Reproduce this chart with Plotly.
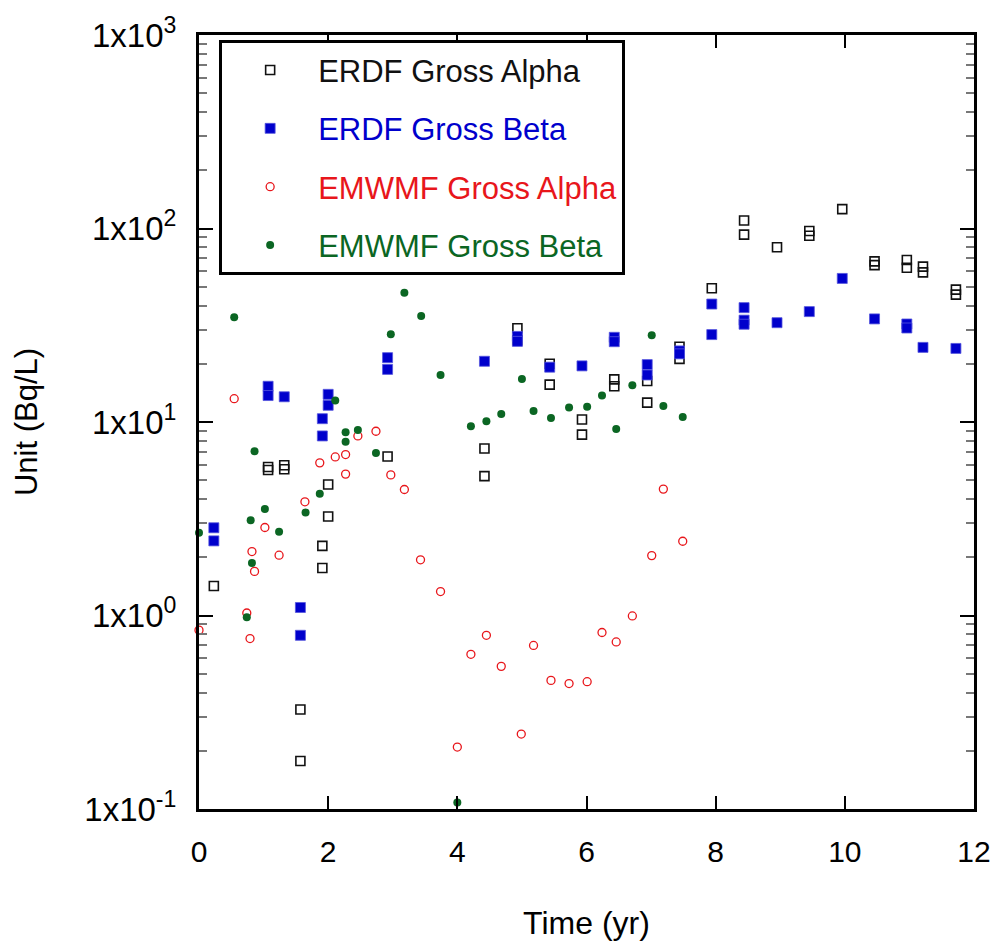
import plotly.graph_objects as go

# ERDF Gross Alpha (open black squares)
erdf_alpha_t = [0.23, 1.07, 1.07, 1.32, 1.32, 1.57, 1.57, 1.91, 1.91, 2.0, 2.0, 2.92,
                4.42, 4.42, 4.93, 4.93, 5.43, 5.43, 5.93, 5.93, 6.43, 6.43, 6.94, 6.94,
                7.44, 7.44, 7.94, 8.44, 8.44, 8.95, 9.45, 9.45, 9.96, 10.46, 10.46,
                10.96, 10.96, 11.21, 11.21, 11.72, 11.72]
erdf_alpha_v = [1.42, 5.85, 5.65, 5.98, 5.7, 0.327, 0.177, 2.29, 1.76, 4.75, 3.25, 6.63,
                7.3, 5.25, 30.5, 26.5, 20.0, 15.6, 10.3, 8.6, 16.6, 15.3, 16.3, 12.6,
                24.5, 21.2, 49.1, 110, 93, 80, 97, 91.7, 126, 67.6, 64.7,
                68.7, 62.7, 63.5, 59.3, 48.3, 45.5]

# ERDF Gross Beta (filled blue squares)
erdf_beta_t = [0.23, 0.23, 1.07, 1.07, 1.32, 1.57, 1.57, 1.91, 1.91, 2.0, 2.0, 2.92, 2.92,
               4.42, 4.93, 4.93, 5.43, 5.93, 6.43, 6.43, 6.94, 6.94, 7.44, 7.44, 7.94, 7.94,
               8.44, 8.44, 8.44, 8.95, 9.45, 9.96, 10.46, 10.96, 10.96, 11.21, 11.72]
erdf_beta_v = [2.84, 2.43, 15.3, 13.7, 13.5, 1.10, 0.79, 10.4, 8.47, 13.9, 12.2, 21.5, 18.7,
               20.6, 27.7, 26.1, 19.2, 19.5, 27.4, 26.0, 19.8, 17.5, 23.3, 22.5, 40.7, 28.3,
               39.0, 33.6, 32.0, 32.6, 37.2, 55.2, 34.1, 32.1, 30.6, 24.3, 24.0]

# EMWMF Gross Alpha (open red circles)
emwmf_alpha_t = [0.0, 0.545, 0.74, 0.79, 0.82, 0.86, 1.02, 1.24, 1.64, 1.87, 2.11, 2.27,
                 2.27, 2.46, 2.74, 2.97, 3.18, 3.43, 3.74, 4.0, 4.21, 4.45, 4.68, 4.99,
                 5.18, 5.45, 5.73, 6.01, 6.24, 6.46, 6.71, 7.01, 7.19, 7.49]
emwmf_alpha_v = [0.84, 13.2, 1.03, 0.76, 2.14, 1.69, 2.85, 2.05, 3.87, 6.15, 6.6, 6.79,
                 5.38, 8.47, 8.96, 5.33, 4.48, 1.94, 1.33, 0.209, 0.63, 0.79, 0.546, 0.244,
                 0.70, 0.462, 0.445, 0.455, 0.817, 0.73, 0.995, 2.04, 4.5, 2.42]

# EMWMF Gross Beta (filled green circles)
emwmf_beta_t = [0.0, 0.545, 0.74, 0.80, 0.82, 0.86, 1.02, 1.24, 1.65, 1.87, 2.11, 2.27,
                2.27, 2.46, 2.74, 2.97, 3.18, 3.44, 3.74, 4.0, 4.21, 4.45, 4.68, 5.0,
                5.18, 5.45, 5.73, 6.01, 6.24, 6.46, 6.71, 7.01, 7.19, 7.49]
emwmf_beta_v = [2.68, 34.8, 0.98, 3.11, 1.87, 7.06, 3.55, 2.71, 3.41, 4.26, 12.9, 8.85,
                7.9, 9.1, 6.92, 28.4, 46.6, 35.3, 17.5, 0.108, 9.5, 10.1, 11.0, 16.7,
                11.4, 10.5, 11.9, 12.0, 13.7, 9.2, 15.5, 28.1, 12.1, 10.6]

x_ticks = [0, 2, 4, 6, 8, 10, 12]
y_ticks = [0.1, 1, 10, 100, 1000]
y_ticktext = ["1x10<sup>-1</sup>", "1x10<sup>0</sup>", "1x10<sup>1</sup>",
              "1x10<sup>2</sup>", "1x10<sup>3</sup>"]

BLACK = "#111111"
BLUE = "#0000cc"
RED = "#e8161b"
GREEN = "#0b6623"

fig = go.Figure()
fig.add_trace(go.Scatter(
    x=erdf_alpha_t, y=erdf_alpha_v, mode="markers", legendgroup="a",
    name=f'<span style="color:{BLACK}">ERDF Gross Alpha</span>',
    marker=dict(symbol="square-open", size=9, color=BLACK, line=dict(width=1.6)),
    cliponaxis=False))
fig.add_trace(go.Scatter(
    x=erdf_beta_t, y=erdf_beta_v, mode="markers", legendgroup="b",
    name=f'<span style="color:{BLUE}">ERDF Gross Beta</span>',
    marker=dict(symbol="square", size=10, color=BLUE, line=dict(width=0.8, color="#5555dd")),
    cliponaxis=False))
fig.add_trace(go.Scatter(
    x=emwmf_alpha_t, y=emwmf_alpha_v, mode="markers", legendgroup="c",
    name=f'<span style="color:{RED}">EMWMF Gross Alpha</span>',
    marker=dict(symbol="circle-open", size=8, color=RED, line=dict(width=1.3)),
    cliponaxis=False))
fig.add_trace(go.Scatter(
    x=emwmf_beta_t, y=emwmf_beta_v, mode="markers", legendgroup="d",
    name=f'<span style="color:{GREEN}">EMWMF Gross Beta</span>',
    marker=dict(symbol="circle", size=8, color=GREEN),
    cliponaxis=False))

fig.update_layout(
    width=1003, height=949,
    margin=dict(l=199, r=25, t=30, b=140),
    paper_bgcolor="white", plot_bgcolor="white",
    font=dict(family="Liberation Sans, Arial, sans-serif", color="black", size=30),
    showlegend=True,
    legend=dict(
        x=0.026, y=0.993, xanchor="left", yanchor="top",
        bgcolor="white", bordercolor="black", borderwidth=3,
        font=dict(size=31), tracegroupgap=15, itemwidth=86,
        itemsizing="trace",
    ),
    xaxis=dict(
        range=[0, 12], tickvals=x_ticks, ticktext=[str(v) for v in x_ticks],
        showline=True, linecolor="black", linewidth=3, mirror="ticks",
        ticks="inside", ticklen=13, tickwidth=1.5, tickcolor="black",
        showgrid=False, zeroline=False,
        tickfont=dict(size=30),
        ticklabelstandoff=14,
        title=dict(text="Time (yr)", standoff=45, font=dict(size=32)),
    ),
    yaxis=dict(
        type="log", range=[-1, 3], tickvals=y_ticks, ticktext=y_ticktext,
        showline=True, linecolor="black", linewidth=3, mirror="ticks",
        ticks="inside", ticklen=14, tickwidth=1.5, tickcolor="black",
        minor=dict(ticks="inside", ticklen=8, tickwidth=1.5, tickcolor="#777777", dtick="D1"),
        showgrid=False, zeroline=False,
        tickfont=dict(size=33),
        ticklabelstandoff=13,
        title=dict(text="Unit (Bq/L)", standoff=38, font=dict(size=31)),
    ),
)

fig.write_html("out.html")
